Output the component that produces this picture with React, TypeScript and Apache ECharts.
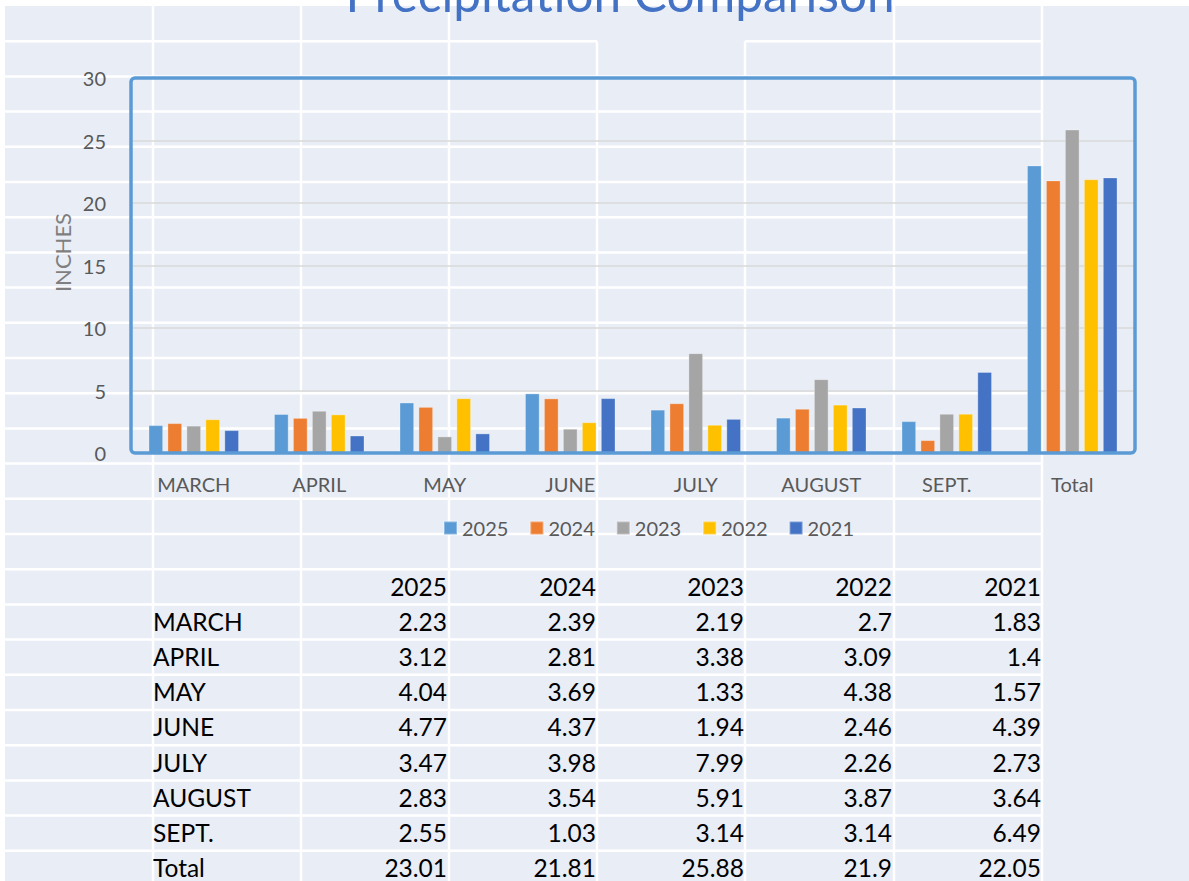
import React, { useEffect, useRef } from "react";
import * as echarts from "echarts";

const categories = ["MARCH", "APRIL", "MAY", "JUNE", "JULY", "AUGUST", "SEPT.", "Total"];
const years = ["2025", "2024", "2023", "2022", "2021"];
const colors = ["#5B9BD5", "#ED7D31", "#A5A5A5", "#FFC000", "#4472C4"];

const v2025 = [2.23, 3.12, 4.04, 4.77, 3.47, 2.83, 2.55, 23.01];
const v2024 = [2.39, 2.81, 3.69, 4.37, 3.98, 3.54, 1.03, 21.81];
const v2023 = [2.19, 3.38, 1.33, 1.94, 7.99, 5.91, 3.14, 25.88];
const v2022 = [2.7, 3.09, 4.38, 2.46, 2.26, 3.87, 3.14, 21.9];
const v2021 = [1.83, 1.4, 1.57, 4.39, 2.73, 3.64, 6.49, 22.05];
const seriesValues = [v2025, v2024, v2023, v2022, v2021];

const FONT = "Lato, 'Open Sans', sans-serif";

export default function App() {
  const ref = useRef<HTMLDivElement>(null);
  useEffect(() => {
    if (!ref.current) return;
    const chart = echarts.init(ref.current, undefined, { renderer: "svg" });

    // spreadsheet background grid
    const colX = [5, 153, 301, 449, 597, 745, 894, 1042];
    const rowH = 35.2;
    const bg: any[] = [];
    bg.push({ type: "rect", z: -10, silent: true, shape: { x: 0, y: 0, width: 1189, height: 6 }, style: { fill: "#ffffff" } });
    bg.push({ type: "rect", z: -10, silent: true, shape: { x: 0, y: 0, width: 5, height: 881 }, style: { fill: "#ffffff" } });
    for (let k = 1; k < 26; k++) {
      const y = 6 + rowH * k;
      if (k === 1) {
        bg.push({ type: "line", z: -9, silent: true, shape: { x1: 5, y1: y, x2: 597, y2: y }, style: { stroke: "#ffffff", lineWidth: 2.5 } });
        bg.push({ type: "line", z: -9, silent: true, shape: { x1: 745, y1: y, x2: 1042, y2: y }, style: { stroke: "#ffffff", lineWidth: 2.5 } });
      } else {
        bg.push({ type: "line", z: -9, silent: true, shape: { x1: 5, y1: y, x2: 1042, y2: y }, style: { stroke: "#ffffff", lineWidth: 2.5 } });
      }
    }
    colX.forEach((x, i) => {
      if (i === 0) return;
      const y1 = x === 597 || x === 745 ? 41.2 : 6;
      bg.push({ type: "line", z: -9, silent: true, shape: { x1: x, y1, x2: x, y2: 881 }, style: { stroke: "#ffffff", lineWidth: 2.5 } });
    });

    const texts: any[] = [];
    // title
    texts.push({
      type: "text",
      z: 20,
      x: 620,
      y: -7,
      style: {
        text: "Precipitation Comparison",
        fontFamily: FONT,
        fontSize: 49.5,
        fill: "#4472C4",
        align: "center",
        textAlign: "center",
        verticalAlign: "middle",
        textVerticalAlign: "middle",
      },
    });

    // y axis title
    texts.push({
      type: "text",
      z: 20,
      x: 62,
      y: 252.5,
      rotation: Math.PI / 2,
      style: {
        text: "INCHES",
        fontFamily: FONT,
        fontSize: 22,
        fill: "#7F7F7F",
        align: "center",
        textAlign: "center",
        verticalAlign: "middle",
        textVerticalAlign: "middle",
      },
    });

    // plot border
    texts.push({
      type: "rect",
      z: 10,
      silent: true,
      shape: { x: 131, y: 78, width: 1004, height: 375, r: 4 },
      style: { fill: "none", stroke: "#5B9BD5", lineWidth: 3.5 },
    });

    // data table
    const rightEdges = [447, 596, 744, 892, 1041];
    const rowCenter = (r: number) => 586 + rowH * r;
    const tStyle = (text: string, align: string) => ({
      text,
      fontFamily: FONT,
      fontSize: 24.5,
      fill: "#000000",
      align,
      textAlign: align,
      verticalAlign: "middle",
      textVerticalAlign: "middle",
    });
    years.forEach((yr, j) => {
      texts.push({ type: "text", z: 5, x: rightEdges[j], y: rowCenter(0), style: tStyle(yr, "right") });
    });
    categories.forEach((cat, i) => {
      texts.push({ type: "text", z: 5, x: 153, y: rowCenter(i + 1), style: tStyle(cat, "left") });
      seriesValues.forEach((vals, j) => {
        texts.push({ type: "text", z: 5, x: rightEdges[j], y: rowCenter(i + 1), style: tStyle(String(vals[i]), "right") });
      });
    });

    chart.setOption({
      animation: false,
      backgroundColor: "#E9EDF6",
      textStyle: { fontFamily: FONT },
      graphic: { elements: [...bg, ...texts] },
      legend: {
        data: years,
        left: 438,
        top: 513,
        icon: "rect",
        itemWidth: 13,
        itemHeight: 13,
        itemGap: 21,
        textStyle: { fontSize: 20, color: "#595959", fontFamily: FONT },
      },
      grid: { left: 131, right: 54, top: 78, bottom: 428, containLabel: false },
      xAxis: {
        type: "category",
        data: categories,
        axisLine: { show: false },
        axisTick: { show: false },
        axisLabel: { margin: 21, fontSize: 20, color: "#595959", fontFamily: FONT },
      },
      yAxis: {
        type: "value",
        min: 0,
        max: 30,
        interval: 5,
        axisLine: { show: false },
        axisTick: { show: false },
        axisLabel: { margin: 25, fontSize: 20, color: "#595959", fontFamily: FONT },
        splitLine: { lineStyle: { color: "#D9D9D9", width: 1.5 } },
      },
      series: years.map((yr, j) => ({
        name: yr,
        type: "bar",
        data: seriesValues[j],
        barWidth: 14.7,
        barGap: "29%",
        itemStyle: { color: colors[j], borderColor: "rgba(255,255,255,0.3)", borderWidth: 1 },
      })),
    });
    return () => chart.dispose();
  }, []);
  return (
    <div
      ref={ref}
      style={{ position: "absolute", left: 0, top: 0, width: 1189, height: 881 }}
    />
  );
}
